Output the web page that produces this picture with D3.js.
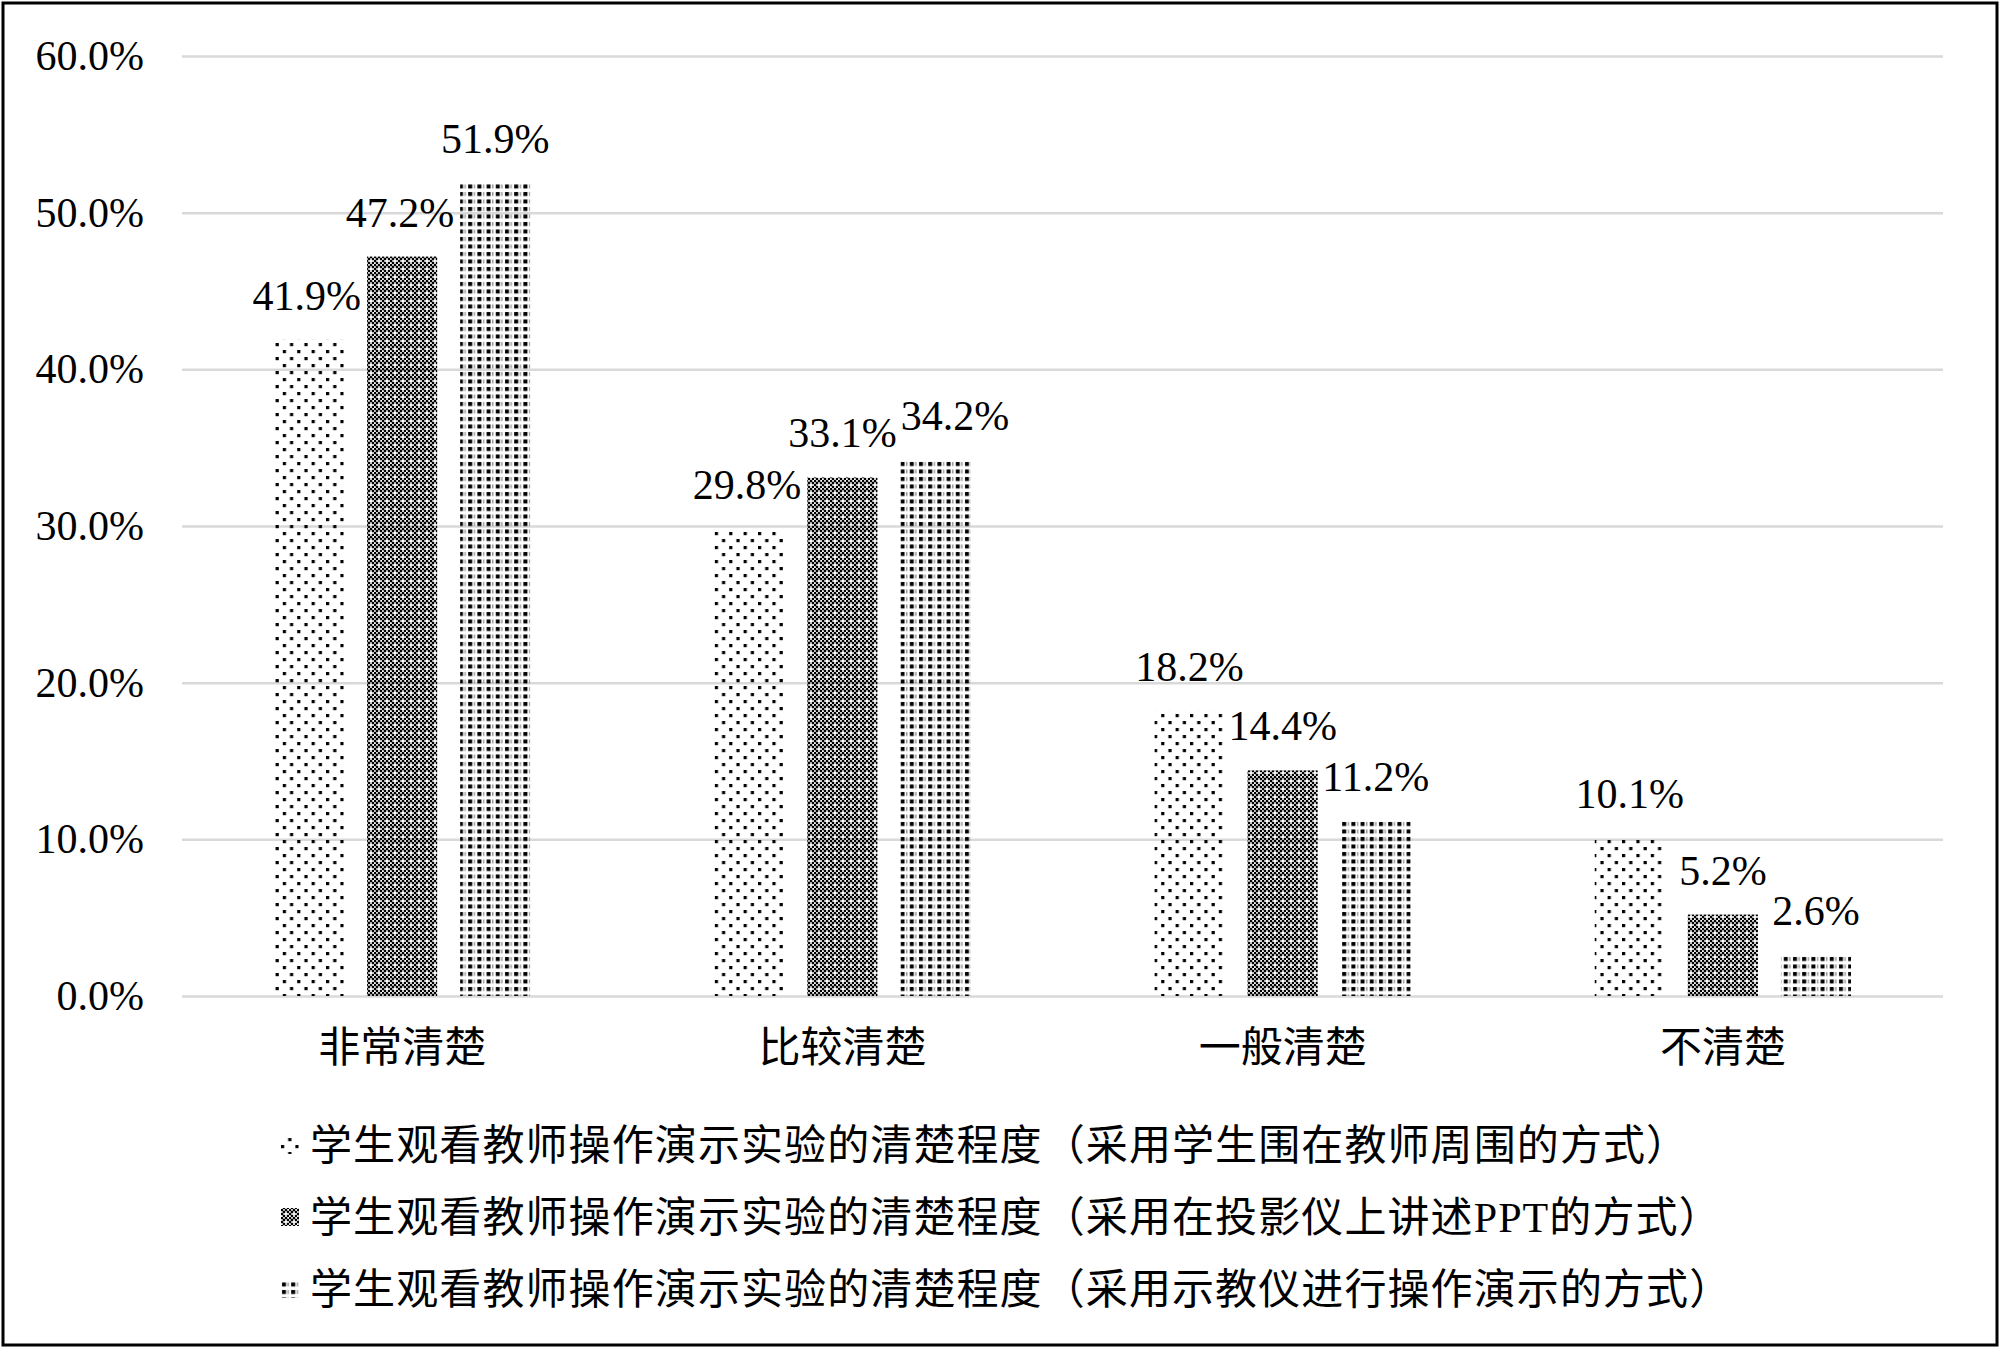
<!DOCTYPE html>
<html>
<head>
<meta charset="utf-8">
<script src="https://cdn.jsdelivr.net/npm/d3@7"></script>
<style>
body { margin: 0; background: #fff; }
text { font-family: "Liberation Serif", "Noto Sans CJK SC", serif; fill: #000; }
</style>
</head>
<body>
<div id="chart"></div>
<script>
// chart data
var categories = ["非常清楚", "比较清楚", "一般清楚", "不清楚"];
var seriesNames = [
  "学生观看教师操作演示实验的清楚程度（采用学生围在教师周围的方式）",
  "学生观看教师操作演示实验的清楚程度（采用在投影仪上讲述PPT的方式）",
  "学生观看教师操作演示实验的清楚程度（采用示教仪进行操作演示的方式）"
];
var surroundVals = [41.9, 29.8, 18.2, 10.1];
var projectorVals = [47.2, 33.1, 14.4, 5.2];
var demoVals = [51.9, 34.2, 11.2, 2.6];
var yTicks = [0, 10, 20, 30, 40, 50, 60];

var W = 2000, H = 1348;
var margin = {top: 56, right: 57, bottom: 352, left: 182},
    width = W - margin.left - margin.right,
    height = H - margin.top - margin.bottom;

var svg = d3.select("#chart").append("svg")
  .attr("width", W)
  .attr("height", H);

// patterns
var defs = svg.append("defs");
var p1 = defs.append("pattern").attr("id", "pat0")
  .attr("patternUnits", "userSpaceOnUse").attr("width", 14.4).attr("height", 14);
p1.append("rect").attr("x", 0).attr("y", 0).attr("width", 3.2).attr("height", 3.2).attr("fill", "#000");
p1.append("rect").attr("x", 7.2).attr("y", 7).attr("width", 3.2).attr("height", 3.2).attr("fill", "#000");

// checkerboard with a white cross every 4 cells
var cell = 2;
var p2 = defs.append("pattern").attr("id", "pat1")
  .attr("patternUnits", "userSpaceOnUse").attr("width", cell * 4).attr("height", cell * 4);
for (var i = 0; i < 4; i++) {
  for (var j = 0; j < 4; j++) {
    if ((i + j) % 2 === 0 && !(i === 2 && j === 2)) {
      p2.append("rect").attr("x", i * cell - 0.2).attr("y", j * cell - 0.2)
        .attr("width", cell + 0.4).attr("height", cell + 0.4).attr("fill", "#000");
    }
  }
}

var p3 = defs.append("pattern").attr("id", "pat2")
  .attr("patternUnits", "userSpaceOnUse").attr("width", 9.2).attr("height", 7.5);
p3.append("rect").attr("x", 1).attr("y", 1).attr("width", 4).attr("height", 4).attr("fill", "#000");
p3.append("rect").attr("x", 6.6).attr("y", 1).attr("width", 1.2).attr("height", 4).attr("fill", "#888");

// outer frame
svg.append("rect")
  .attr("x", 3).attr("y", 3)
  .attr("width", W - 6).attr("height", H - 6)
  .attr("fill", "none").attr("stroke", "#000").attr("stroke-width", 3);

var g = svg.append("g")
  .attr("transform", "translate(" + margin.left + "," + margin.top + ")");

var y = d3.scaleLinear().domain([0, 60]).range([height, 0]);

var x0 = d3.scaleBand()
  .domain(categories)
  .range([0, width])
  .paddingInner(0.418)
  .paddingOuter(0.209);

var x1 = d3.scaleBand()
  .domain([0, 1, 2])
  .range([0, x0.bandwidth()])
  .paddingInner(0.247)
  .paddingOuter(0);

// gridlines + y labels
var yAxis = g.append("g")
  .call(d3.axisLeft(y).tickValues(yTicks).tickSize(-width).tickPadding(38)
    .tickFormat(function(d) { return d.toFixed(1) + "%"; }));
yAxis.select(".domain").remove();
yAxis.selectAll(".tick line").attr("stroke", "#d9d9d9").attr("stroke-width", 2.5);
yAxis.selectAll(".tick text")
  .style("font-size", "42px")
  .style("font-family", "Liberation Serif");

// x labels
var xAxis = g.append("g")
  .attr("transform", "translate(0," + height + ")")
  .call(d3.axisBottom(x0).tickSize(0).tickPadding(36));
xAxis.select(".domain").remove();
xAxis.selectAll(".tick text")
  .style("font-size", "42px")
  .style("font-family", "Noto Sans CJK SC");

var series = [surroundVals, projectorVals, demoVals];

// bars
series.forEach(function(vals, s) {
  g.append("g").attr("class", "bars" + s)
    .selectAll("rect")
    .data(vals)
    .enter().append("rect")
    .attr("x", function(d, i) { return x0(categories[i]) + x1(s); })
    .attr("y", function(d) { return y(d); })
    .attr("width", x1.bandwidth())
    .attr("height", function(d) { return height - y(d); })
    .attr("fill", "url(#pat" + s + ")");
});

// value labels, nudged sideways when they collide
categories.forEach(function(cat, i) {
  var prevBox = null;
  series.forEach(function(vals, s) {
    var v = vals[i];
    var t = g.append("text")
      .attr("x", x0(cat) + x1(s) + x1.bandwidth() / 2)
      .attr("y", y(v) - 30)
      .attr("text-anchor", "middle")
      .style("font-size", "42px")
      .text(v.toFixed(1) + "%");
    var b = t.node().getBBox();
    var dx = 0;
    // keep clear of the next taller bar
    if (s < 2) {
      var nx = x0(cat) + x1(s + 1), ny = y(series[s + 1][i]);
      if (b.y + b.height > ny && b.x + b.width > nx - 6) dx = (nx - 6) - (b.x + b.width);
    }
    // keep clear of the previous label
    if (prevBox && b.y < prevBox.y + prevBox.height && b.y + b.height > prevBox.y &&
        b.x + dx < prevBox.x + prevBox.width + 4) {
      dx = prevBox.x + prevBox.width + 4 - b.x;
    }
    t.attr("x", +t.attr("x") + dx);
    prevBox = {x: b.x + dx, y: b.y, width: b.width, height: b.height};
  });
});

// legend
var legend = svg.append("g").attr("transform", "translate(281,1145)");
seriesNames.forEach(function(name, s) {
  var row = legend.append("g").attr("transform", "translate(0," + (s * 72) + ")");
  row.append("rect")
    .attr("x", 0).attr("y", -9)
    .attr("width", 18).attr("height", 18)
    .attr("fill", "url(#pat" + s + ")");
  row.append("text")
    .attr("x", 29).attr("y", 0)
    .attr("dy", "0.35em")
    .style("font-size", "42px")
    .style("letter-spacing", "1.1px")
    .text(name);
});
</script>
</body>
</html>
